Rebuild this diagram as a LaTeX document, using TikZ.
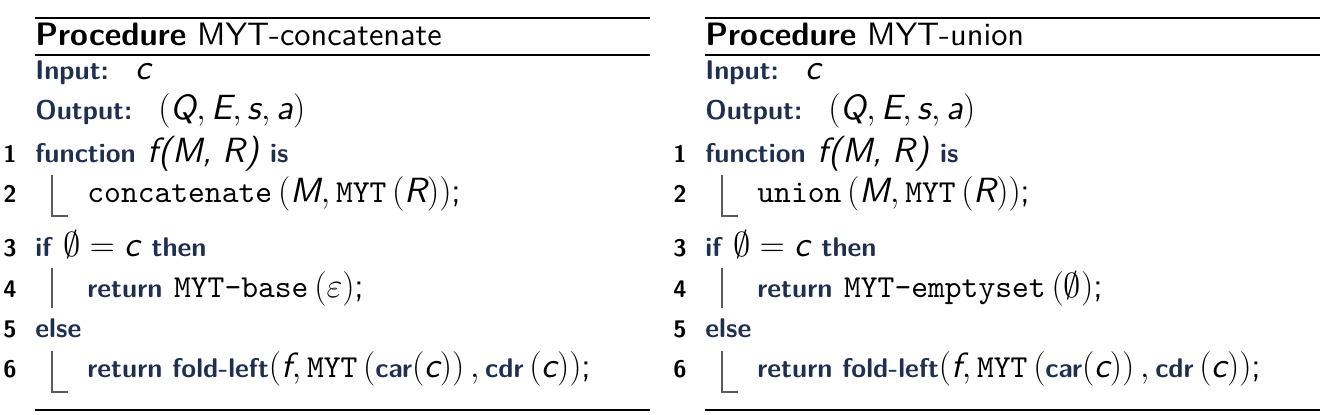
\documentclass[tikz,border=0pt]{standalone}
\usepackage{fontspec}
\setsansfont{lmsans10-regular.otf}[BoldFont=lmsans10-bold.otf, ItalicFont=lmsans10-oblique.otf, BoldItalicFont=lmsans10-boldoblique.otf]
\setmonofont{lmmono10-regular.otf}
\usepackage{xcolor}
\usepackage{tikz}
\usetikzlibrary{positioning}
\usepackage{amsmath}
\usepackage{amssymb}

\definecolor{kwblue}{HTML}{1F2F50}
\definecolor{bargray}{HTML}{5A5A5A}
\newcommand{\kw}[1]{{\color{kwblue}\bfseries\fontsize{13.5}{16}\selectfont #1}}
\newcommand{\mv}[1]{\textsf{\itshape #1}}
\newcommand{\cd}[1]{{\ttfamily\fontsize{16}{20}\selectfont #1}}
\newcommand{\tts}[1]{\text{\cd{#1}}}

\begin{document}
\begin{tikzpicture}[
      x=0.5pt, y=-0.5pt,
      every node/.style={inner sep=0pt, anchor=base west, font=\sffamily\fontsize{17.5}{20}\selectfont},
      title/.style={font=\sffamily\fontsize{16.2}{20}\selectfont},
      lnum/.style={anchor=base east, font=\sffamily\bfseries\fontsize{12}{15}\selectfont},
      rule/.style={line width=1pt},
      blockbar/.style={draw=bargray, line width=0.7pt}
    ]
        \useasboundingbox (0,0) rectangle (1323,415);

        % left: MYT-concatenate
        \draw[rule] (35,18) -- (650,18);
        \node[title] (ctitle) at (35,46) {\textbf{Procedure} MYT-concatenate};
        \draw[rule] (35,55) -- (650,55);
        \node (cin) at (35,80) {\kw{Input:}};
        \node (cinv) at (135,80) {$\mv{c}$};
        \node (cout) at (35,120) {\kw{Output:}};
        \node (coutv) at (158,120) {$(\mv{Q}, \mv{E}, \mv{s}, \mv{a})$};
        \foreach \n/\y in {1/163, 2/203, 3/257, 4/298, 5/338, 6/378}
            \node[lnum] (cn\n) at (17,\y) {\n};
        \node (c1) at (35,163) {\kw{function}\hspace{6pt}\textit{f(M,\hspace{5pt}R)}\hspace{5pt}\kw{is}};
        \node (c2) at (87,203) {\cd{concatenate}\,$(\mv{M}, \tts{MYT}\,(\mv{R}))$;};
        \node (c3) at (35,257) {\kw{if} $\emptyset = \mv{c}$ \kw{then}};
        \node (c4) at (87,298) {\kw{return} \cd{MYT-base}\,$(\varepsilon)$;};
        \node (c5) at (35,338) {\kw{else}};
        \node (c6) at (87,378) {\kw{return fold-left}$(\mv{f}, \tts{MYT}\,(\text{\kw{car}}(\mv{c}))\,, \text{\kw{cdr}}\,(\mv{c}))$;};
        \draw[blockbar] (52,175) |- (68,216);
        \draw[blockbar] (52,268) -- (52,308);
        \draw[blockbar] (52,351) |- (68,392);
        \draw[rule] (35,410) -- (650,410);

        % right: MYT-union
        \begin{scope}[xshift=335pt]
        \draw[rule] (35,18) -- (650,18);
        \node[title] (utitle) at (35,46) {\textbf{Procedure} MYT-union};
        \draw[rule] (35,55) -- (650,55);
        \node (uin) at (35,80) {\kw{Input:}};
        \node (uinv) at (135,80) {$\mv{c}$};
        \node (uout) at (35,120) {\kw{Output:}};
        \node (uoutv) at (158,120) {$(\mv{Q}, \mv{E}, \mv{s}, \mv{a})$};
        \foreach \n/\y in {1/163, 2/203, 3/257, 4/298, 5/338, 6/378}
            \node[lnum] (un\n) at (17,\y) {\n};
        \node (u1) at (35,163) {\kw{function}\hspace{6pt}\textit{f(M,\hspace{5pt}R)}\hspace{5pt}\kw{is}};
        \node (u2) at (87,203) {\cd{union}\,$(\mv{M}, \tts{MYT}\,(\mv{R}))$;};
        \node (u3) at (35,257) {\kw{if} $\emptyset = \mv{c}$ \kw{then}};
        \node (u4) at (87,298) {\kw{return} \cd{MYT-emptyset}\,$(\emptyset)$;};
        \node (u5) at (35,338) {\kw{else}};
        \node (u6) at (87,378) {\kw{return fold-left}$(\mv{f}, \tts{MYT}\,(\text{\kw{car}}(\mv{c}))\,, \text{\kw{cdr}}\,(\mv{c}))$;};
        \draw[blockbar] (52,175) |- (68,216);
        \draw[blockbar] (52,268) -- (52,308);
        \draw[blockbar] (52,351) |- (68,392);
        \draw[rule] (35,410) -- (650,410);
        \end{scope}
\end{tikzpicture}
\end{document}
